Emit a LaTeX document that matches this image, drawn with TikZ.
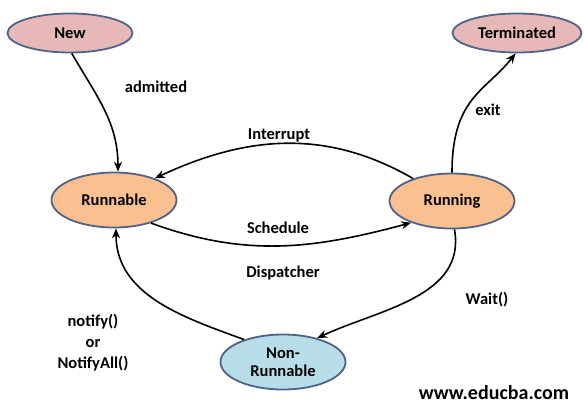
\documentclass[tikz,border=0pt]{standalone}
\usepackage{fontspec}
\setmainfont{Carlito}
\usetikzlibrary{arrows.meta,positioning,shapes.geometric}
\definecolor{rimblue}{RGB}{79,98,136}
\definecolor{pinkfill}{RGB}{230,185,184}
\definecolor{orangefill}{RGB}{250,192,144}
\definecolor{bluefill}{RGB}{183,222,232}

\begin{document}
\begin{tikzpicture}[
      x=1pt,y=-1pt,
      state/.style={ellipse,draw=rimblue,line width=1.8pt,inner sep=0pt,
                    font=\bfseries\fontsize{16.5}{18}\selectfont,align=center,
                    minimum width=125pt,minimum height=55pt},
      endstate/.style={state,fill=pinkfill,minimum height=39pt},
      arrow/.style={-{Stealth[length=10pt,width=8pt]},line width=1.6pt},
      lbl/.style={font=\bfseries\fontsize{16.5}{18}\selectfont,align=center},
    ]
    \useasboundingbox (0,0) rectangle (584,418);

    % States
    \node[endstate] (new)  at (70,33)  {New};
    \node[endstate,minimum width=129pt] (term) at (517,33) {Terminated};
    \node[state,fill=orangefill] (runnable) at (114,200) {Runnable};
    \node[state,fill=orangefill] (running)  at (452,201) {Running};
    \node[state,fill=bluefill]   (nonrun)   at (283,362) {Non-\\Runnable};

    % Transitions
    \draw[arrow] (new.275) to[out=-60,in=90] (runnable.82);
    \draw[arrow] (running.90) .. controls +(0,-75) and +(-30,38) .. (term.266);
    \draw[arrow] (running.150) to[out=150,in=25] (runnable.28);
    \draw[arrow] (runnable.-32) to[out=-20,in=195] (running.208);
    \draw[arrow] (running.-85) to[out=-80,in=25] (nonrun.35);
    \draw[arrow] (nonrun.150) to[out=160,in=-90] (runnable.-86);

    % Labels
    \node[lbl] (admitted) at (156,87)  {admitted};
    \node[lbl] (exit)     at (488,110) {exit};
    \node[lbl] (intr)     at (279,135) {Interrupt};
    \node[lbl] (sched)    at (278,228) {Schedule};
    \node[lbl] (disp)     at (283,273) {Dispatcher};
    \node[lbl] (wait)     at (487,300) {Wait()};
    \node[lbl,font=\bfseries\fontsize{16.5}{21}\selectfont] (notify) at (93,343) {notify()\\or\\NotifyAll()};
    \node[lbl,font=\bfseries\fontsize{20}{22}\selectfont] (site) at (494,393) {www.educba.com};
  \end{tikzpicture}
\end{document}
